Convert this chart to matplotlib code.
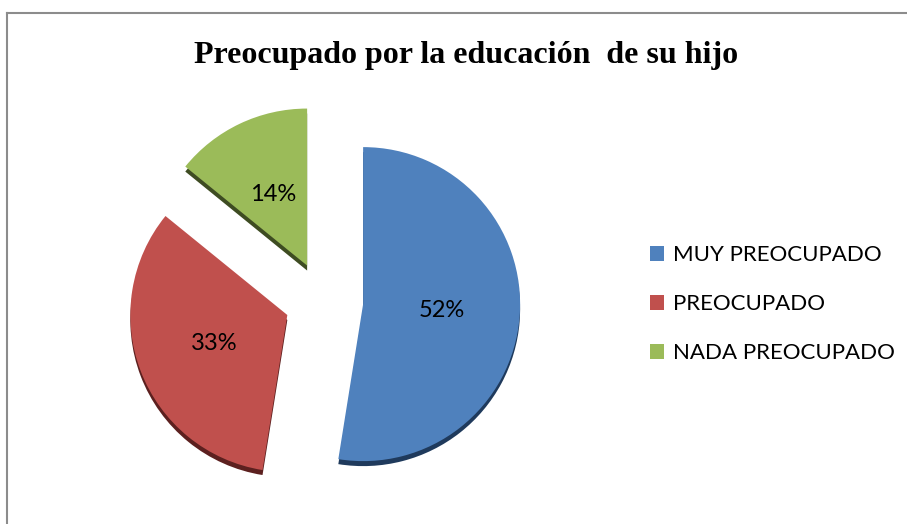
import matplotlib.pyplot as plt
from matplotlib.lines import Line2D
from matplotlib.patches import Patch

# data
categories = ["MUY PREOCUPADO", "PREOCUPADO", "NADA PREOCUPADO"]
values = [52, 33, 14]
colors = ["#4F81BD", "#C0504D", "#9BBB59"]
side_colors = ["#1F3A5C", "#5C201F", "#3E4C22"]
title = "Preocupado por la educación  de su hijo"

W, H = 907, 524
fig = plt.figure(figsize=(W / 100, H / 100), dpi=100)
ax = fig.add_axes([0, 0, 1, 1])

cx, cy, r = 324, 223, 157
# pie() takes explode in data units, so scale by the radius
explode = [0.25 * r] * len(values)

# dark copy slightly lower -> 3D side of the slices
ax.pie(values, colors=side_colors, startangle=90, counterclock=False,
       explode=explode, center=(cx, cy - 5), radius=r,
       wedgeprops=dict(linewidth=0))
wedges, texts = ax.pie(values, colors=colors, startangle=90, counterclock=False,
                       explode=explode, center=(cx, cy), radius=r,
                       labels=[f"{v}%" for v in values], labeldistance=0.5,
                       wedgeprops=dict(linewidth=0),
                       textprops=dict(fontsize=17, family="Lato", color="black",
                                      ha="center", va="center"))

ax.set_xlim(0, W)
ax.set_ylim(0, H)
ax.set_aspect("equal")
ax.axis("off")

# chart frame (only top and left edges visible)
fig.add_artist(Line2D([7 / W, 1], [1 - 13 / H, 1 - 13 / H], color="#8C8C8C", lw=1.5))
fig.add_artist(Line2D([7 / W, 7 / W], [0, 1 - 13 / H], color="#8C8C8C", lw=1.5))

fig.text(466 / W, 1 - 56 / H, title, ha="center", va="center",
         family="Liberation Serif", weight="bold", fontsize=23)

handles = [Patch(facecolor=c, edgecolor="none") for c in colors]
leg = fig.legend(handles, categories, loc="center left",
                 bbox_to_anchor=(630 / W, 1 - 304 / H), frameon=False,
                 prop=dict(family="Lato", size=16), handlelength=0.65,
                 handleheight=0.65, handletextpad=0.4, labelspacing=1.3)

fig.savefig("out.png", dpi=100)
